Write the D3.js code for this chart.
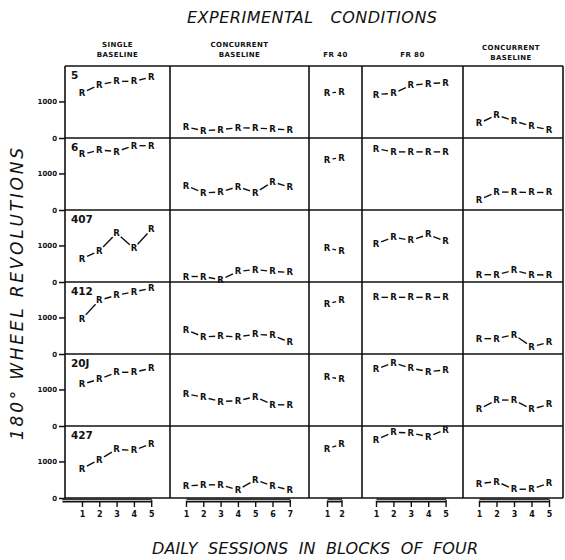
<!DOCTYPE html>
<html>
<head>
<meta charset="utf-8">
<script src="https://cdn.jsdelivr.net/npm/d3@7"></script>
<style>
  body { margin: 0; background: #fff; }
  text { font-family: 'DejaVu Sans', 'Liberation Sans', sans-serif; fill: #111; }
</style>
</head>
<body>
<div class="canvas"></div>
<script>
// subjects (rows) and conditions (columns)
const subjects = ['5', '6', '407', '412', '20J', '427'];
const conditionLines = [
  ['SINGLE', 'BASELINE'],
  ['CONCURRENT', 'BASELINE'],
  ['FR 40'],
  ['FR 80'],
  ['CONCURRENT', 'BASELINE']
];
const yTicks = [0, 1000];

// wheel revolutions per block of four sessions, one row per subject
const singleBaseline = [
  [1230, 1460, 1550, 1550, 1670],
  [1520, 1640, 1600, 1760, 1760],
  [640, 850, 1340, 920, 1440],
  [960, 1470, 1610, 1700, 1800],
  [1140, 1280, 1470, 1470, 1580],
  [800, 1050, 1330, 1300, 1490]
];
const concurrentBaseline1 = [
  [300, 200, 230, 280, 270, 250, 220],
  [670, 470, 490, 640, 470, 770, 620],
  [150, 150, 60, 290, 340, 290, 260],
  [660, 470, 490, 470, 540, 510, 320],
  [880, 790, 670, 690, 800, 580, 580],
  [330, 360, 360, 220, 500, 330, 220]
];
const fr40 = [
  [1230, 1260],
  [1380, 1430],
  [930, 850],
  [1370, 1470],
  [1350, 1280],
  [1350, 1470]
];
const fr80 = [
  [1190, 1220, 1440, 1490, 1510],
  [1680, 1590, 1590, 1590, 1590],
  [1040, 1230, 1140, 1300, 1110],
  [1550, 1550, 1550, 1550, 1550],
  [1550, 1730, 1580, 1490, 1530],
  [1590, 1800, 1780, 1680, 1870]
];
const concurrentBaseline2 = [
  [400, 630, 470, 320, 230],
  [280, 490, 490, 480, 480],
  [200, 200, 320, 200, 190],
  [420, 420, 530, 200, 320],
  [460, 710, 710, 460, 590],
  [390, 450, 240, 240, 410]
];
const conditionData = [singleBaseline, concurrentBaseline1, fr40, fr80, concurrentBaseline2];

// layout
const gridTop = 66, rowH = 72;
const cols = [
  { left: 65, right: 170, first: 82, step: 17.3, head: 47 },
  { left: 170, right: 309, first: 186, step: 17.3, head: 47 },
  { left: 309, right: 362, first: 327, step: 14.5, head: 57 },
  { left: 362, right: 463, first: 376, step: 17.4, head: 57 },
  { left: 463, right: 563, first: 479, step: 17.5, head: 50 }
];
const gridBottom = gridTop + rowH * subjects.length;

const svg = d3.select('.canvas').append('svg').attr('width', 565).attr('height', 560);
svg.append('rect').attr('width', 565).attr('height', 560).attr('fill', '#fff');

// titles
svg.append('text')
  .attr('x', 312).attr('y', 23)
  .attr('text-anchor', 'middle')
  .attr('textLength', 250).attr('lengthAdjust', 'spacing')
  .style('font-size', '16px').style('font-style', 'italic').style('white-space', 'pre')
  .text('EXPERIMENTAL   CONDITIONS');

svg.append('text')
  .attr('x', 315).attr('y', 554)
  .attr('text-anchor', 'middle')
  .attr('textLength', 326).attr('lengthAdjust', 'spacing')
  .style('font-size', '16px').style('font-style', 'italic').style('white-space', 'pre')
  .text('DAILY  SESSIONS  IN  BLOCKS  OF  FOUR');

svg.append('text')
  .attr('transform', 'translate(23, 294) rotate(-90)')
  .attr('text-anchor', 'middle')
  .attr('textLength', 292).attr('lengthAdjust', 'spacing')
  .style('font-size', '17px').style('font-style', 'italic')
  .text('180° WHEEL REVOLUTIONS');

// per-row y scales
const yScales = subjects.map((s, i) =>
  d3.scaleLinear().domain([0, 1970]).range([gridTop + rowH * (i + 1), gridTop + rowH * i])
);

cols.forEach((c, ci) => {
  const data = conditionData[ci];
  const n = data[0].length;
  const x = d3.scaleLinear().domain([1, n]).range([c.first, c.first + c.step * (n - 1)]);
  const g = svg.append('g');

  // column header
  const lines = conditionLines[ci];
  lines.forEach((l, li) => {
    g.append('text')
      .attr('x', (c.left + c.right) / 2 + (ci === 4 ? -2 : 0))
      .attr('y', c.head + li * 10)
      .attr('text-anchor', 'middle')
      .style('font-size', '7px').style('font-weight', 'bold').style('letter-spacing', '0.4px')
      .text(l);
  });

  // bottom axis: bar with ticks
  const axisStart = ci === 0 ? x.invert(c.left - 3) : 1;
  const xAxisScale = x.copy().domain([axisStart, n]).range([x(axisStart), x(n)]);
  const xAxis = d3.axisBottom(xAxisScale)
    .tickValues(d3.range(1, n + 1))
    .tickSize(7).tickSizeOuter(0).tickPadding(4)
    .tickFormat(d3.format('d'));
  const ax = g.append('g').attr('transform', `translate(0, ${gridBottom + 2})`).call(xAxis);
  ax.select('.domain').attr('stroke', '#111').attr('stroke-width', 4);
  ax.append('path')
    .attr('d', `M${x(axisStart)},0.3H${x(n)}`)
    .attr('stroke', '#bbb').attr('stroke-width', 1.2);
  ax.selectAll('.tick line').attr('stroke', '#111').attr('stroke-width', 1.4);
  ax.selectAll('.tick text')
    .style('font-size', '8px').style('font-weight', 'bold').attr('fill', '#111');
  ax.selectAll('text').style('font-family', "'DejaVu Sans', sans-serif");

  data.forEach((vals, ri) => {
    const y = yScales[ri];
    const pts = vals.map((v, i) => [x(i + 1), y(v)]);

    // connecting dashes between markers
    const gap = 5.5;
    d3.pairs(pts).forEach(([a, b]) => {
      const dx = b[0] - a[0], dy = b[1] - a[1];
      const len = Math.hypot(dx, dy);
      g.append('line')
        .attr('x1', a[0] + dx / len * gap).attr('y1', a[1] + dy / len * gap)
        .attr('x2', b[0] - dx / len * gap).attr('y2', b[1] - dy / len * gap)
        .attr('stroke', '#111').attr('stroke-width', 1.4);
    });

    g.selectAll(null)
      .data(pts)
      .enter()
      .append('text')
      .attr('x', d => d[0])
      .attr('y', d => d[1])
      .attr('text-anchor', 'middle')
      .attr('dominant-baseline', 'central')
      .style('font-size', '8.5px').style('font-weight', 'bold')
      .text('R');
  });
});

// subject labels and left axes
subjects.forEach((s, ri) => {
  svg.append('text')
    .attr('x', 71).attr('y', gridTop + rowH * ri + 13)
    .style('font-size', '10.5px').style('font-weight', 'bold')
    .text(s);

  const yAxis = d3.axisLeft(yScales[ri]).tickValues(yTicks).tickSize(6).tickPadding(2).tickFormat(d3.format('d'));
  const ay = svg.append('g').attr('transform', `translate(${cols[0].left}, 0)`).call(yAxis);
  ay.select('.domain').remove();
  ay.selectAll('.tick line').attr('stroke', '#111').attr('stroke-width', 1.5);
  ay.selectAll('.tick text')
    .style('font-size', '7px').style('font-weight', 'bold').attr('fill', '#111')
    .style('font-family', "'DejaVu Sans', sans-serif");
});

// panel grid
const grid = svg.append('g').attr('stroke', '#111').attr('stroke-width', 1.6).attr('fill', 'none');
d3.range(subjects.length + 1).forEach(i => {
  grid.append('line')
    .attr('x1', cols[0].left).attr('x2', cols[cols.length - 1].right)
    .attr('y1', gridTop + rowH * i).attr('y2', gridTop + rowH * i);
});
cols.forEach(c => {
  grid.append('line').attr('x1', c.left).attr('x2', c.left).attr('y1', gridTop).attr('y2', gridBottom);
});
grid.append('line')
  .attr('x1', cols[cols.length - 1].right).attr('x2', cols[cols.length - 1].right)
  .attr('y1', gridTop).attr('y2', gridBottom);
</script>
</body>
</html>
